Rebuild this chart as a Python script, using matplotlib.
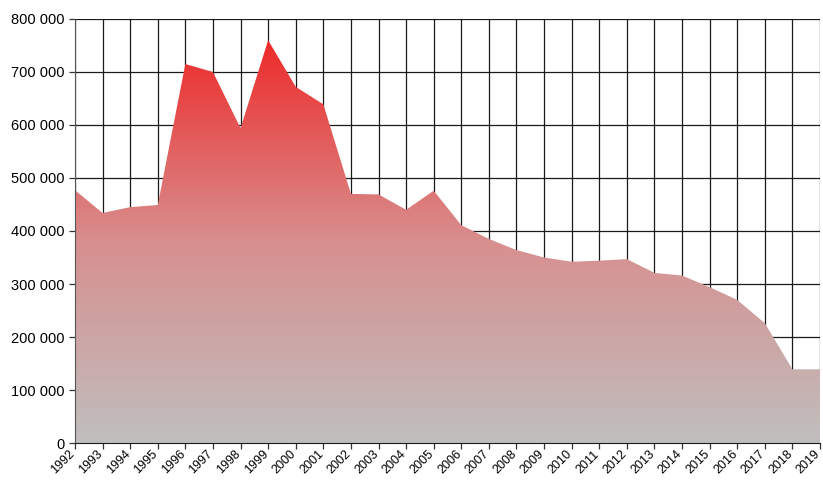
import numpy as np
import matplotlib
matplotlib.use("Agg")
import matplotlib.pyplot as plt
import matplotlib.transforms as mtransforms
from matplotlib.colors import LinearSegmentedColormap

# --- Dados ---
anos = list(range(1992, 2020))
valores = [477000, 434000, 445000, 449000, 715000, 700000, 594000, 760000,
           672000, 639000, 470000, 469000, 440000, 476000, 411000, 385000,
           364000, 350000, 342000, 344000, 347000, 321000, 316000, 294000,
           270000, 226000, 139000, 139000]
y_ticks = list(range(0, 800001, 100000))
y_labels = ["0" if v == 0 else f"{v // 1000} 000" for v in y_ticks]

plt.rcParams["font.family"] = ["Liberation Sans", "DejaVu Sans"]

fig = plt.figure(figsize=(8.23, 4.82), dpi=100)
ax = fig.add_axes([0.0911, 0.0809, 0.9053, 0.8797])

# grade
for a in anos:
    ax.axvline(a, color="#1a1a1a", lw=0.9, zorder=1)
for v in y_ticks:
    ax.axhline(v, color="#1a1a1a", lw=0.9, zorder=1)

# área com gradiente
poly = ax.fill_between(anos, valores, 0, color="none", lw=0, zorder=2)
cmap = LinearSegmentedColormap.from_list("grad", ["#c0bebe", "#d88f8f", "#ee2a2a"])
grad = np.linspace(0, 1, 256).reshape(-1, 1)
img = ax.imshow(grad, cmap=cmap, origin="lower", aspect="auto",
                extent=[anos[0], anos[-1], 0, max(valores)], zorder=2)
img.set_clip_path(poly.get_paths()[0], transform=ax.transData)

ax.set_xlim(anos[0], anos[-1])
ax.set_ylim(0, 800000)
ax.set_xticks(anos)
ax.set_xticklabels([])
# rótulos dos anos desenhados à mão, um pouco à esquerda do tique
trans = ax.get_xaxis_transform() + mtransforms.ScaledTranslation(-6 / 100, -5 / 100, fig.dpi_scale_trans)
for a in anos:
    ax.text(a, 0, str(a), transform=trans, rotation=45, ha="right", va="top",
            rotation_mode="anchor", fontsize=9, clip_on=False)
ax.set_yticks(y_ticks)
ax.set_yticklabels(y_labels, fontsize=10.5)
ax.tick_params(axis="both", direction="out", length=4, width=0.9, color="#333333")

for s in ["top", "right"]:
    ax.spines[s].set_visible(False)
ax.spines["left"].set_color("#555555")
ax.spines["bottom"].set_color("#1a1a1a")
ax.spines["left"].set_zorder(3)
ax.spines["bottom"].set_zorder(3)

fig.savefig("out.png", dpi=100)
